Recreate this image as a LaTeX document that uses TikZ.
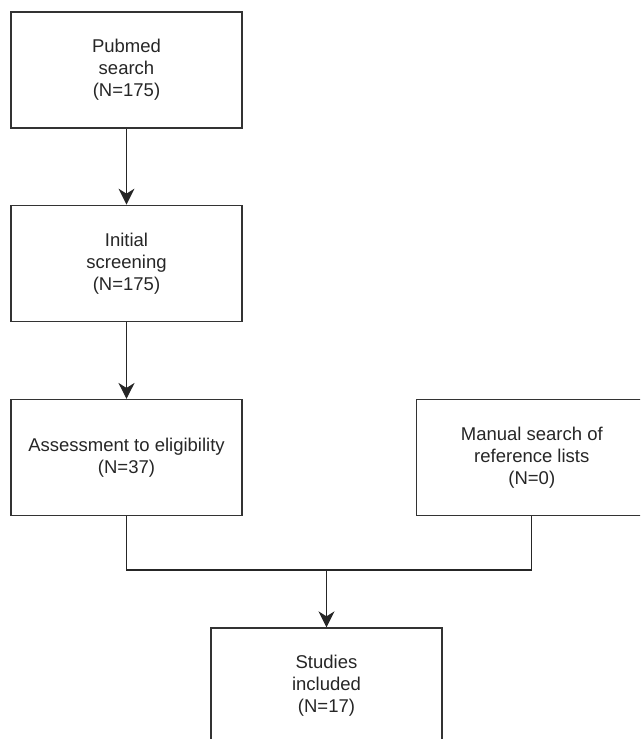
\documentclass[tikz,border=0pt]{standalone}
\usepackage{fontspec}
\setsansfont{Liberation Sans}
\usetikzlibrary{positioning,arrows.meta}
\begin{document}
\begin{tikzpicture}[
   x=1pt,y=-1pt,
   font=\sffamily\fontsize{18.5}{22}\selectfont,
   node distance=76pt and 173pt,
   state/.style={draw=black!80,line width=1.3pt,minimum width=231pt,minimum height=116pt,inner sep=0pt,align=center,text=black!85},
   to/.style={-{Stealth[length=16pt,width=16pt,inset=5pt]},line width=1.3pt,draw=black!85},
   link/.style={line width=1.3pt,draw=black!85}]
\useasboundingbox (0,0) rectangle (640,739);
\clip (0,0) rectangle (640,739);
\node[state] (search) at (126.5,70) {Pubmed\\search\\(N=175)};
\node[state,below=of search] (screen) {Initial\\screening\\(N=175)};
\node[state,below=77pt of screen] (assess) {Assessment to eligibility\\(N=37)};
\node[state,right=of assess] (manual) {Manual search of\\reference lists\\(N=0)};
\node[state] (incl) at (326.5,686) {Studies\\included\\(N=17)};
\coordinate (merge) at (326.5,570);
\draw[to] (search) -- (screen);
\draw[to] (screen) -- (assess);
\draw[link] (assess.south) |- (merge) -| (manual.south);
\draw[to] (merge) -- (incl);
\end{tikzpicture}
\end{document}
